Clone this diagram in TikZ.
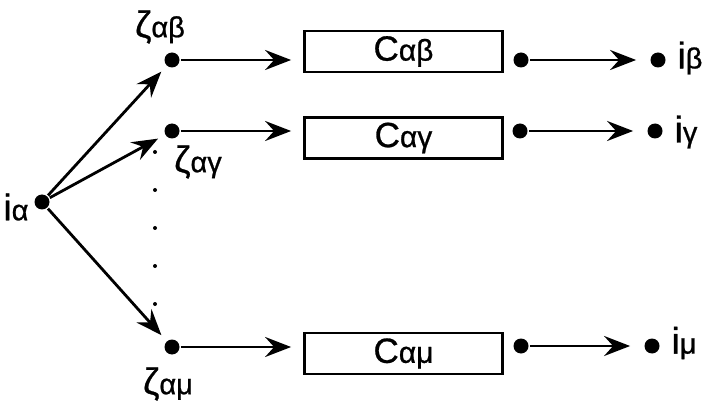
\documentclass[tikz,border=0pt]{standalone}
\usepackage{fontspec}
\setmainfont[FakeBold=0.8]{Liberation Sans}
\usetikzlibrary{arrows.meta,positioning,calc}
\newcommand{\lsub}[1]{{\fontsize{29}{29}\selectfont #1}}
\newcommand{\bsub}[1]{{\fontsize{30}{30}\selectfont #1}}

\begin{document}
\begin{tikzpicture}[x=1pt,y=-1pt,>={Stealth[length=26pt,width=20pt,inset=9pt]},line width=2.8pt,
  dot/.style={circle,fill,inner sep=0pt,minimum size=15pt},
  tinydot/.style={circle,fill,inner sep=0pt,minimum size=4pt},
  cbox/.style={draw,line width=2.8pt,minimum width=198pt,minimum height=41pt,inner sep=0pt,font=\fontsize{35}{35}\selectfont},
  lbl/.style={inner sep=0pt,font=\fontsize{37}{37}\selectfont}]
\useasboundingbox (0,0) rectangle (704,406);
% source and branch points
\node[dot] (ia) at (42,202) {};
\node[dot] (zb) at (172,60) {};\node[dot] (zg) at (172,131) {};\node[dot] (zm) at (172,347) {};
\foreach \y in {152,190,228,266,304} \node[tinydot] (v\y) at (155,\y) {};
% boxes
\node[cbox] (cb) at (403.5,51.5) {C\bsub{αβ}};
\node[cbox] (cg) at (403.5,138) {C\bsub{αγ}};
\node[cbox] (cm) at (403.5,353.5) {C\bsub{αμ}};
% outputs
\node[dot] (ob) at (521,60) {};\node[dot] (ib) at (658,60) {};
\node[dot] (og) at (520,131) {};\node[dot] (ig) at (655,131) {};
\node[dot] (om) at (521,346) {};\node[dot] (im) at (652,346) {};
% labels
\node[lbl] (tia) at (16,207) {i\lsub{α}};
\node[lbl] (tzb) at (160,27) {ζ\lsub{αβ}};
\node[lbl] (tzg) at (198,162) {ζ\lsub{αγ}};
\node[lbl] (tzm) at (168,384) {ζ\lsub{αμ}};
\node[lbl] (tib) at (690,58) {i\lsub{β}};
\node[lbl] (tig) at (686,132) {i\lsub{γ}};
\node[lbl] (tim) at (684,343) {i\lsub{μ}};
% connectors
\draw[->,shorten >=7pt] (ia)--(zb);\draw[->,shorten >=7pt] (ia)--(zg);\draw[->,shorten >=7pt] (ia)--(zm);
\draw[->,shorten >=12pt] (zb)--(zb-|cb.west);\draw[->,shorten >=12pt] (zg)--(zg-|cg.west);\draw[->,shorten >=12pt] (zm)--(zm-|cm.west);
\draw[->,shorten >=13pt] (ob)--(ib);\draw[->,shorten >=13pt] (og)--(ig);\draw[->,shorten >=13pt] (om)--(im);
\end{tikzpicture}
\end{document}
